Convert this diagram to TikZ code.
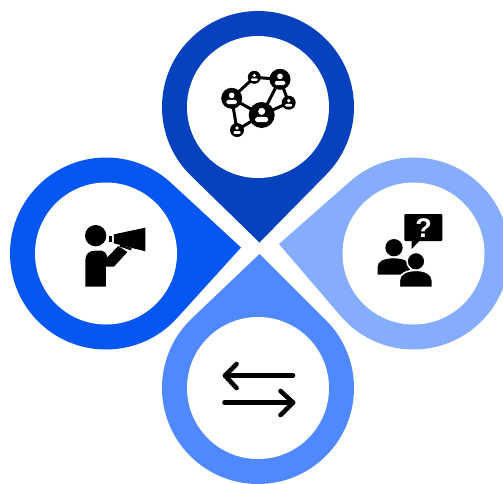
\documentclass[tikz,border=0pt]{standalone}
\usepackage{fontspec}
\setmainfont{Liberation Sans}
\definecolor{pinTop}{HTML}{0641BE}
\definecolor{pinLeft}{HTML}{0556F2}
\definecolor{pinRight}{HTML}{86ADFD}
\definecolor{pinBottom}{HTML}{5088FF}
\newcommand{\pinshape}[5]{%
  \pgfmathsetmacro{\pd}{veclen(#3-#1,#4-#2)}%
  \pgfmathsetmacro{\pa}{atan2(#4-#2,#3-#1)}%
  \pgfmathsetmacro{\pb}{acos(96/\pd)}%
  \pgfmathsetmacro{\pfrom}{\pa+\pb}%
  \pgfmathsetmacro{\pto}{\pa-\pb+360}%
  \fill[#5] (#3,#4) -- ({#1+96*cos(\pfrom)},{#2+96*sin(\pfrom)}) arc[start angle=\pfrom,end angle=\pto,radius=96] -- cycle;
  \fill[white] (#1,#2) circle[radius=71];
}
\newcommand{\netperson}[3]{%
  \fill[black] (#1,#2) circle[radius=#3];
  \fill[white] (#1,{#2-0.28*#3}) circle[radius={0.27*#3}];
  \fill[white,rounded corners={0.15*#3}] ({#1-0.5*#3},{#2+0.55*#3}) -- ({#1-0.5*#3},{#2+0.15*#3}) -- ({#1+0.5*#3},{#2+0.15*#3}) -- ({#1+0.5*#3},{#2+0.55*#3}) -- cycle;
}
\tikzset{netedge/.style={line width=3pt,draw=black},
  arrowline/.style={line width=4.6pt,draw=black,line cap=round,line join=round}}
\begin{document}
\begin{tikzpicture}[x=1pt,y=-1pt]
\useasboundingbox (0,0) rectangle (503,483);
\clip (0,0) rectangle (503,483);
\pinshape{258}{107}{259.5}{242.5}{pinTop}
\pinshape{106}{253.5}{241}{247.5}{pinLeft}
\pinshape{413.5}{253.5}{279}{244}{pinRight}
\pinshape{258}{388}{259.5}{254}{pinBottom}
% network
\coordinate (na) at (231.7,98.3);
\coordinate (nb) at (254.3,77.3);
\coordinate (nc) at (280,79.3);
\coordinate (nd) at (288.7,102.7);
\coordinate (ne) at (261.7,115);
\coordinate (nf) at (237,130);
\draw[netedge] (na)--(nb)--(nc)--(ne)--(nd)--(nc) (na)--(ne)--(nf)--(na);
\netperson{231.7}{98.3}{10.5}
\netperson{254.3}{77.3}{6.5}
\netperson{280}{79.3}{10.5}
\netperson{288.7}{102.7}{7}
\netperson{261.7}{115}{13}
\netperson{237}{130}{7}
% megaphone person
\begin{scope}[shift={(70,210)},x=0.3333pt,y=-0.3333pt]
\fill (77,77) circle[radius=32];
\fill (46,230) -- (46,150) .. controls (46,132) and (58,122) .. (75,122) -- (95,122) .. controls (105,122) and (108,130) .. (112,142) -- (145,108) -- (172,126) -- (132,170) -- (108,170) -- (108,230) -- cycle;
\fill (132,73) -- (226,53) -- (226,124) -- (132,100) -- cycle;
\fill (118,77) rectangle (127,97);
\fill (150,104) -- (185,114) -- (183,121) -- (150,110) -- cycle;
\end{scope}
% chat people
\begin{scope}[shift={(365,200)},x=0.3333pt,y=-0.3333pt]
\fill[rounded corners=1pt] (118,42) rectangle (232,123);
\fill (140,120) -- (140,147) -- (166,120) -- cycle;
\node[text=white,font=\fontsize{27}{27}\selectfont\bfseries,inner sep=0pt] (q) at (176,85) {?};
\fill (87,143) circle[radius=26];
\fill (38,224) -- (38,200) .. controls (38,185) and (55,175) .. (87,175) .. controls (115,175) and (135,185) .. (135,200) -- (135,224) -- cycle;
\fill[draw=white,line width=1.6pt] (103,262) -- (103,240) .. controls (103,222) and (125,211) .. (153,211) .. controls (181,211) and (202,222) .. (202,240) -- (202,262) -- cycle;
\fill[draw=white,line width=1.6pt] (153,184) circle[radius=27];
\end{scope}
% arrows
\coordinate (ta) at (293,375.5);
\coordinate (tb) at (225,375.5);
\coordinate (ba) at (224.5,402.5);
\coordinate (bb) at (293,402.5);
\draw[arrowline] (ta) -- (tb);
\draw[arrowline] (236.5,364) -- (tb) -- (236.5,388);
\draw[arrowline] (ba) -- (bb);
\draw[arrowline] (280.5,391) -- (bb) -- (280.5,415);
\end{tikzpicture}
\end{document}
